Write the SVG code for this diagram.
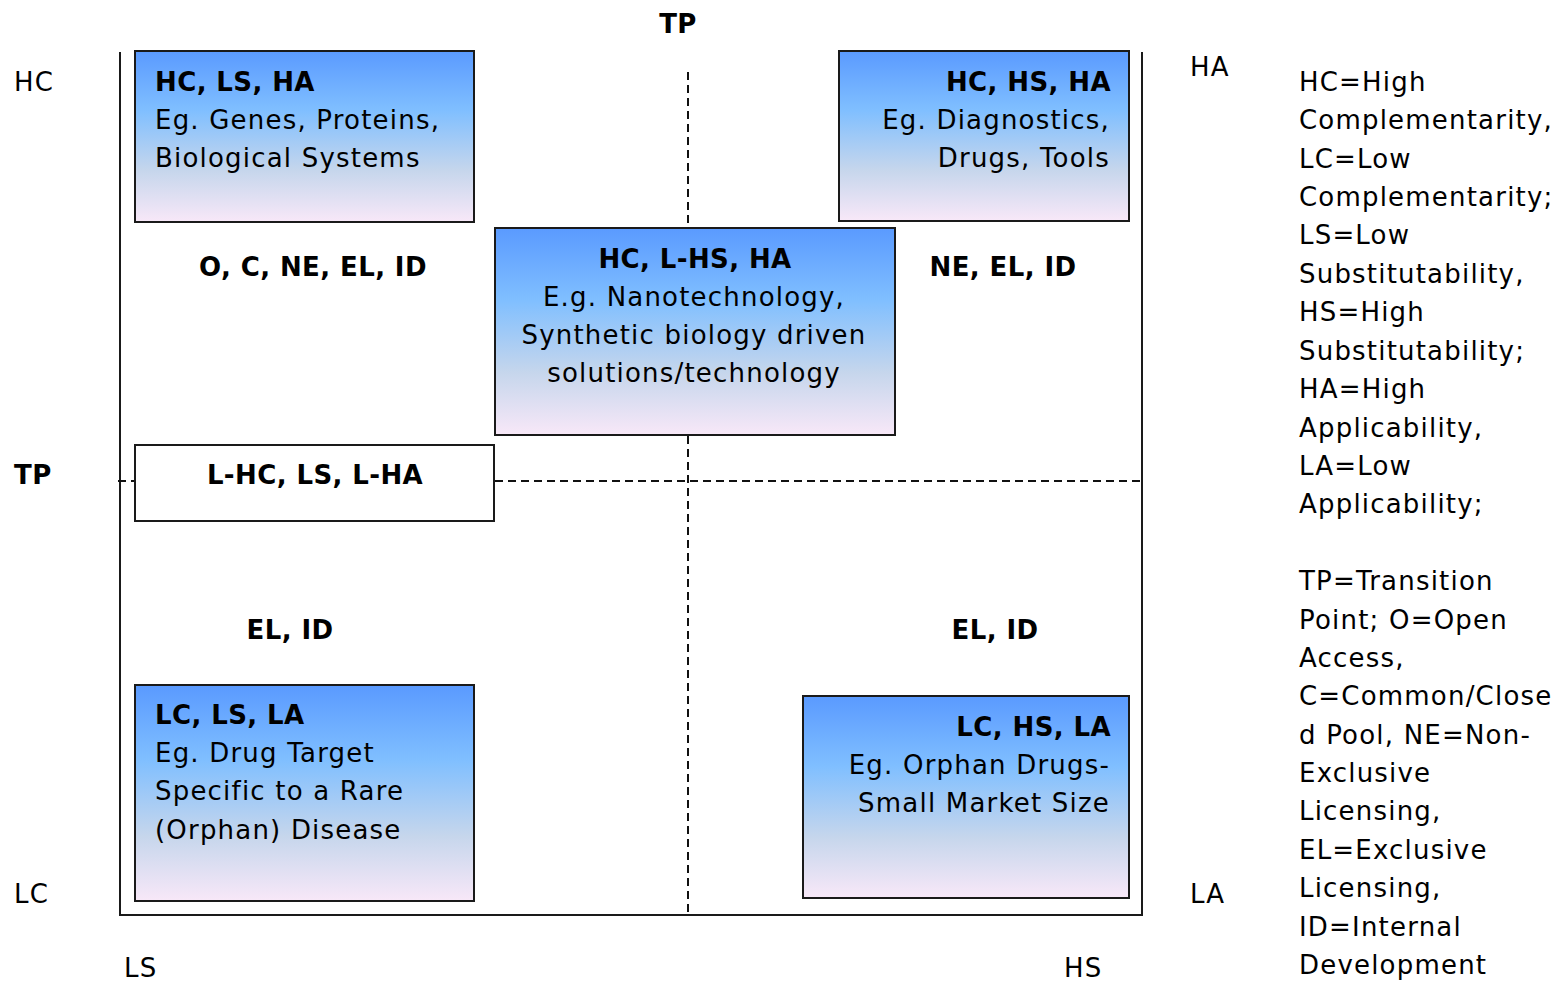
<svg xmlns="http://www.w3.org/2000/svg" width="1560" height="983" viewBox="0 0 1560 983">
<defs>
<linearGradient id="g" x1="0" y1="0" x2="0" y2="1">
<stop offset="0" stop-color="#5a9aff"/>
<stop offset="0.35" stop-color="#80bfff"/>
<stop offset="0.7" stop-color="#c6d6ec"/>
<stop offset="1" stop-color="#f8e8f8"/>
</linearGradient>
</defs>
<style>
text{font-family:"DejaVu Sans","Liberation Sans",sans-serif;font-size:26px;fill:#000;letter-spacing:1.2px}
.b{font-weight:bold;letter-spacing:0.4px}
.box{fill:url(#g);stroke:#1a1a1a;stroke-width:2}
.wbox{fill:#fff;stroke:#1a1a1a;stroke-width:2}
.ax{stroke:#1a1a1a;stroke-width:2;fill:none}
.dash{stroke:#111;stroke-width:2;stroke-dasharray:8 5;fill:none}
.m{text-anchor:middle}
.e{text-anchor:end}
</style>
<rect width="1560" height="983" fill="#fff"/>
<g id="axes">
<line class="ax" x1="120" y1="52" x2="120" y2="915"/>
<line class="ax" x1="119" y1="915" x2="1143" y2="915"/>
<line class="ax" x1="1142" y1="52" x2="1142" y2="915" stroke-width="1.5"/>
<line class="dash" x1="688" y1="72" x2="688" y2="914"/>
<line class="dash" x1="118" y1="481" x2="1140" y2="481"/>
</g>
<g id="axis-labels">
<text class="b m" x="678" y="33">TP</text>
<text x="14" y="91">HC</text>
<text class="b" x="14" y="484">TP</text>
<text x="14" y="903">LC</text>
<text x="124" y="977">LS</text>
<text x="1064" y="977">HS</text>
<text x="1190" y="76">HA</text>
<text x="1190" y="903">LA</text>
</g>
<g id="n1">
<rect class="box" x="135" y="51" width="339" height="171"/>
<text class="b" x="155" y="91">HC, LS, HA</text>
<text x="155" y="129">Eg. Genes, Proteins,</text>
<text x="155" y="167">Biological Systems</text>
</g>
<g id="n2">
<rect class="box" x="839" y="51" width="290" height="170"/>
<text class="b e" x="1111" y="91">HC, HS, HA</text>
<text class="e" x="1110" y="129">Eg. Diagnostics,</text>
<text class="e" x="1110" y="167">Drugs, Tools</text>
</g>
<g id="n3">
<rect class="box" x="495" y="228" width="400" height="207"/>
<text class="b m" x="695" y="268">HC, L-HS, HA</text>
<text class="m" x="694" y="306">E.g. Nanotechnology,</text>
<text class="m" x="694" y="344">Synthetic biology driven</text>
<text class="m" x="694" y="382">solutions/technology</text>
</g>
<g id="n4">
<rect class="wbox" x="135" y="445" width="359" height="76"/>
<text class="b m" x="315" y="484">L-HC, LS, L-HA</text>
</g>
<g id="n5">
<rect class="box" x="135" y="685" width="339" height="216"/>
<text class="b" x="155" y="724">LC, LS, LA</text>
<text x="155" y="762">Eg. Drug Target</text>
<text x="155" y="800">Specific to a Rare</text>
<text x="155" y="839">(Orphan) Disease</text>
</g>
<g id="n6">
<rect class="box" x="803" y="696" width="326" height="202"/>
<text class="b e" x="1111" y="736">LC, HS, LA</text>
<text class="e" x="1110" y="774">Eg. Orphan Drugs-</text>
<text class="e" x="1110" y="812">Small Market Size</text>
</g>
<g id="region-labels">
<text class="b m" x="313" y="276">O, C, NE, EL, ID</text>
<text class="b m" x="1003" y="276">NE, EL, ID</text>
<text class="b m" x="290" y="639">EL, ID</text>
<text class="b m" x="995" y="639">EL, ID</text>
</g>
<g id="legend">
<text x="1299" y="91">HC=High</text>
<text x="1299" y="129">Complementarity,</text>
<text x="1299" y="168">LC=Low</text>
<text x="1299" y="206">Complementarity;</text>
<text x="1299" y="244">LS=Low</text>
<text x="1299" y="283">Substitutability,</text>
<text x="1299" y="321">HS=High</text>
<text x="1299" y="360">Substitutability;</text>
<text x="1299" y="398">HA=High</text>
<text x="1299" y="437">Applicability,</text>
<text x="1299" y="475">LA=Low</text>
<text x="1299" y="513">Applicability;</text>
<text x="1299" y="590">TP=Transition</text>
<text x="1299" y="629">Point; O=Open</text>
<text x="1299" y="667">Access,</text>
<text x="1299" y="705">C=Common/Close</text>
<text x="1299" y="744">d Pool, NE=Non-</text>
<text x="1299" y="782">Exclusive</text>
<text x="1299" y="820">Licensing,</text>
<text x="1299" y="859">EL=Exclusive</text>
<text x="1299" y="897">Licensing,</text>
<text x="1299" y="936">ID=Internal</text>
<text x="1299" y="974">Development</text>
</g>
</svg>
